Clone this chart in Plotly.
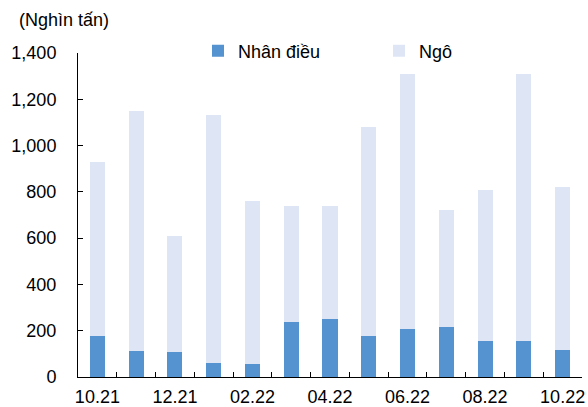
import plotly.graph_objects as go

months = ["10.21", "11.21", "12.21", "01.22", "02.22", "03.22", "04.22",
          "05.22", "06.22", "07.22", "08.22", "09.22", "10.22"]
tick_labels = ["10.21", "", "12.21", "", "02.22", "", "04.22",
               "", "06.22", "", "08.22", "", "10.22"]
nhan_dieu = [178, 114, 108, 62, 57, 238, 252, 178, 207, 217, 157, 157, 117]
totals = [930, 1150, 610, 1130, 760, 740, 740, 1080, 1310, 720, 810, 1310, 820]
ngo = [t - n for t, n in zip(totals, nhan_dieu)]

FONT = "Arial, Liberation Sans, sans-serif"
FS = 18

W, H = 588, 407
ML, MR, MT, MB = 78, 6, 10, 30
PH = H - MT - MB
PW = W - ML - MR
PLOT_TOP_PX = 53
BOTTOM_PX = H - MB


def py(px):
    return (BOTTOM_PX - px) / PH


def px_x(px):
    return (px - ML) / PW


fig = go.Figure()
fig.add_trace(go.Bar(x=months, y=nhan_dieu, name="Nhân điều",
                     marker=dict(color="#5592D0", line=dict(width=0))))
fig.add_trace(go.Bar(x=months, y=ngo, name="Ngô",
                     marker=dict(color="#DEE6F6", line=dict(width=0))))

fig.update_layout(
    barmode="stack",
    bargap=0.61,
    width=W, height=H,
    margin=dict(l=ML, r=MR, t=MT, b=MB, autoexpand=False),
    paper_bgcolor="white", plot_bgcolor="white",
    font=dict(family=FONT, size=FS, color="#000000"),
    showlegend=True,
    legend=dict(orientation="h", x=px_x(198), y=py(51), xanchor="left", yanchor="middle",
                font=dict(family=FONT, size=FS, color="#000000"),
                itemwidth=30, entrywidth=136, traceorder="normal",
                bgcolor="rgba(0,0,0,0)"),
    annotations=[dict(text="(Nghìn tấn)", x=px_x(17), y=py(20), xref="paper", yref="paper",
                      showarrow=False, xanchor="left", yanchor="middle",
                      font=dict(family=FONT, size=FS, color="#000000"))],
)

fig.update_xaxes(
    type="category",
    tickmode="array", tickvals=months, ticktext=tick_labels,
    tickson="boundaries",
    ticks="inside", ticklen=5, tickcolor="#000000", tickwidth=1,
    showline=True, linecolor="#000000", linewidth=1,
    showgrid=False, zeroline=False,
    tickfont=dict(family=FONT, size=FS, color="#000000"),
    tickangle=0, ticklabelstandoff=3,
)
fig.update_yaxes(
    domain=[0, py(PLOT_TOP_PX)],
    range=[0, 1400], dtick=200, tick0=0,
    tickformat=",",
    ticks="inside", ticklen=5, tickcolor="#000000", tickwidth=1,
    showline=True, linecolor="#000000", linewidth=1,
    showgrid=False, zeroline=False,
    tickfont=dict(family=FONT, size=FS, color="#000000"),
    ticklabelstandoff=17,
)

fig.write_html("out.html", config={"displayModeBar": False})

with open("out.html", "r", encoding="utf-8") as f:
    html = f.read()
html = html.replace("<head>", "<head><style>html,body{margin:0;padding:0;overflow:hidden;}</style>", 1)
with open("out.html", "w", encoding="utf-8") as f:
    f.write(html)
